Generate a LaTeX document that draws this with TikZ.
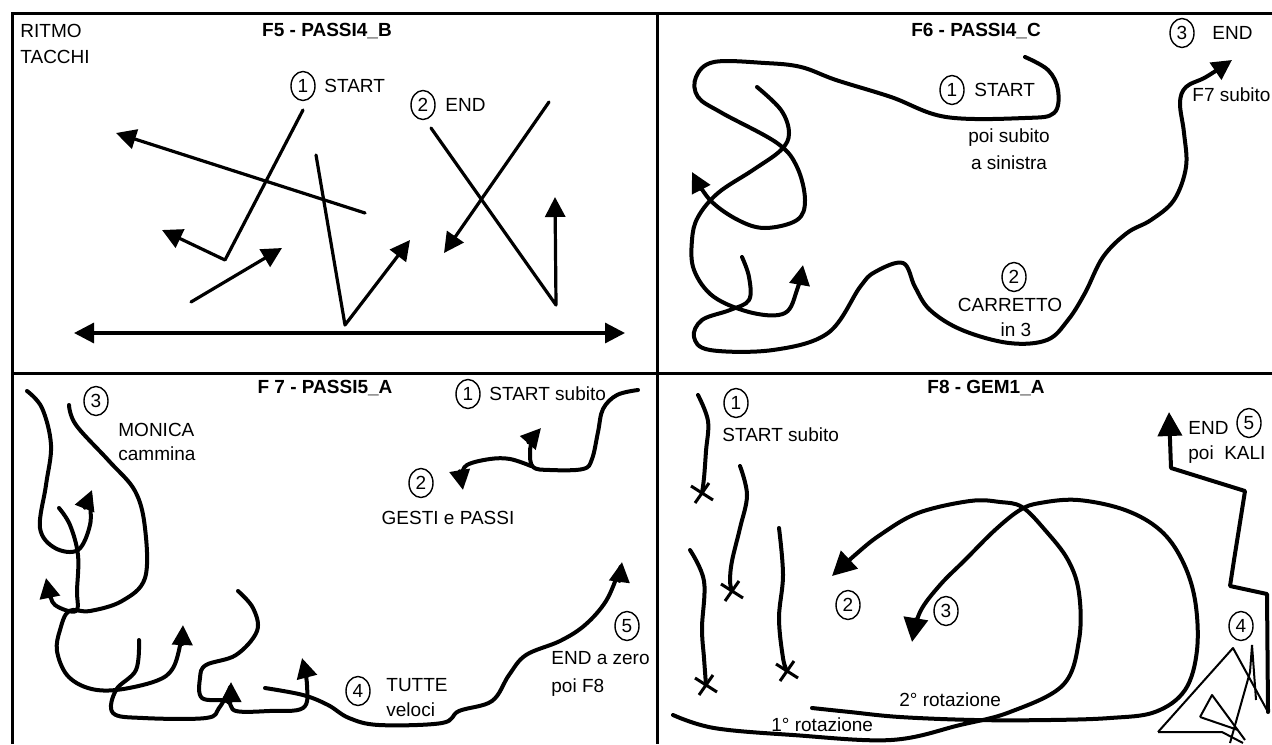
\documentclass[tikz,border=0pt]{standalone}
\usepackage{fontspec}
\setmainfont{Liberation Sans}
\usetikzlibrary{arrows.meta,shapes.geometric}

\tikzset{
  frame/.style={line width=1.5pt},
  lbl/.style={font=\fontsize{9.5}{11}\selectfont,inner sep=0pt},
  ttl/.style={font=\fontsize{9.5}{11}\selectfont\bfseries,inner sep=0pt},
  num/.style={draw,ellipse,line width=0.7pt,minimum width=12pt,minimum height=14.5pt,inner sep=0pt,font=\fontsize{9.5}{11}\selectfont},
  stroke/.style={line width=1.6pt,line cap=round,line join=round},
  trail/.style={line width=2pt,line cap=round,line join=round},
  tip/.style={-{Triangle[length=10pt,width=10pt]}},
  bigtip/.style={-{Triangle[length=12pt,width=12pt]}},
  scribble/.style={line width=1pt,line join=round},
  xmark/.pic={\draw[line width=1.5pt] (-11,-7) -- (11,7) (-7,10) -- (7,-10);}
}

\begin{document}
\begin{tikzpicture}[x=0.5pt,y=-0.5pt]
\useasboundingbox (0,0) rectangle (1272,744);
\draw[frame] (12,744) -- (12,13) -- (1272,13);
\draw[frame] (657,13) -- (657,744);
\draw[frame] (12,373) -- (1272,373);

\node[lbl,anchor=west] (ritmo) at (20,31) {RITMO};
\node[lbl,anchor=west] (tacchi) at (20,57) {TACCHI};
\node[ttl] (f5) at (327,31) {F5 - PASSI4\_B};
\node[num] (f5a) at (303,86) {1};
\node[lbl,anchor=west] (f5start) at (324,86) {START};
\node[num] (f5b) at (423,105) {2};
\node[lbl,anchor=west] (f5end) at (445,105) {END};
\draw[stroke,tip] (365,213) -- (116,133);
\draw[stroke,tip] (303,110) -- (225,260) -- (162,230);
\draw[stroke,tip] (191,302) -- (282,248);
\draw[stroke,tip] (316,155) -- (345,325) -- (410,240);
\draw[stroke,tip] (431,128) -- (556,305) -- (555,197);
\draw[stroke,tip] (549,102) -- (444,253);
\draw[stroke,{Triangle[length=10pt,width=10pt]}-{Triangle[length=10pt,width=10pt]}] (74,333) -- (625,333);

\node[ttl] (f6) at (976,31) {F6 - PASSI4\_C};
\node[num] (f6a) at (952,90) {1};
\node[lbl,anchor=west] (f6start) at (974,90) {START};
\node[lbl] (f6poi) at (1009,138) {poi subito};
\node[lbl] (f6sin) at (1009,163) {a sinistra};
\node[num] (f6c) at (1182,33) {3};
\node[lbl,anchor=west] (f6end) at (1212,33) {END};
\node[lbl,anchor=west] (f6f7) at (1192,95) {F7 subito};
\node[num] (f6b) at (1014,277) {2};
\node[lbl] (f6car) at (1010,305) {CARRETTO};
\node[lbl] (f6in) at (1016,330) {in 3};
\draw[trail,tip] plot[smooth,tension=0.6] coordinates {(1025,57) (1048,70) (1058,90) (1054,113) (1025,118) (946,117) (891,97) (836,80) (801,67) (765,63) (714,62) (696,77) (698,97) (722,113) (777,143) (797,167) (805,200) (797,220) (765,228) (738,220) (710,200) (692,172)};
\draw[trail,tip] plot[smooth,tension=0.6] coordinates {(757,87) (781,110) (789,133) (781,150) (753,170) (718,193) (698,217) (692,240) (694,270) (714,297) (753,313) (785,313) (797,290) (803,265)};
\draw[trail,tip] plot[smooth,tension=0.6] coordinates {(742,257) (749,277) (749,300) (730,310) (702,320) (694,337) (710,350) (773,350) (828,333) (860,287) (875,272) (903,263) (915,287) (930,310) (962,330) (1009,343) (1047,340) (1068,320) (1085,293) (1103,257) (1127,233) (1151,220) (1174,200) (1186,167) (1184,133) (1180,103) (1186,87) (1206,77) (1232,60)};

\node[ttl] (f7) at (325,388) {F 7 - PASSI5\_A};
\node[num] (f7a) at (468,394) {1};
\node[lbl,anchor=west] (f7start) at (489,394) {START subito};
\node[num] (f7c) at (96,401) {3};
\node[lbl,anchor=west] (f7mon) at (118,430) {MONICA};
\node[lbl,anchor=west] (f7cam) at (118,454) {cammina};
\node[num] (f7b) at (421,483) {2};
\node[lbl] (f7gest) at (448,518) {GESTI e PASSI};
\node[num] (f7e) at (627,626) {5};
\node[lbl,anchor=west] (f7end) at (551,658) {END a zero};
\node[lbl,anchor=west] (f7poi) at (551,688) {poi F8};
\node[num] (f7d) at (358,691) {4};
\node[lbl,anchor=west] (f7tut) at (386,685) {TUTTE};
\node[lbl,anchor=west] (f7vel) at (386,710) {veloci};
\draw[trail,tip] plot[smooth,tension=0.6] coordinates {(638,390) (617,395) (603,409) (598,432) (592,459) (583,469) (550,470) (533,467) (530,452) (533,439) (541,428)};
\draw[trail,tip] plot[smooth,tension=0.6] coordinates {(531,466) (510,459) (490,459) (467,465) (462,476) (463,490)};
\draw[trail,tip] plot[smooth,tension=0.6] coordinates {(27,391) (42,408) (51,445) (46,485) (40,528) (55,548) (78,550) (90,525) (90,500) (92,490)};
\draw[trail,tip] plot[smooth,tension=0.6] coordinates {(69,405) (76,425) (109,461) (135,491) (145,528) (145,578) (122,601) (90,611) (69,611) (60,630) (57,651) (67,675) (88,688) (116,690) (156,681) (173,668) (181,641) (183,625)};
\draw[trail,tip] plot[smooth,tension=0.6] coordinates {(139,640) (136,670) (116,690) (113,713) (143,718) (206,718) (219,708) (229,690) (231,682)};
\draw[trail,tip] plot[smooth,tension=0.6] coordinates {(59,508) (70,525) (78,555) (77,590) (76,611) (55,605) (49,590) (46,578)};
\draw[trail,tip] plot[smooth,tension=0.6] coordinates {(238,591) (253,608) (257,631) (236,655) (206,665) (200,678) (202,698) (227,701) (236,711) (269,711) (303,708) (307,685) (302,658)};
\draw[trail,tip] plot[smooth,tension=0.6] coordinates {(265,688) (303,695) (328,705) (349,718) (379,725) (442,723) (459,711) (492,701) (509,675) (526,655) (560,641) (585,625) (606,601) (619,571) (622,562)};

\node[ttl] (f8) at (986,388) {F8 - GEM1\_A};
\node[num] (f8a) at (736,403) {1};
\node[lbl,anchor=west] (f8start) at (722,435) {START subito};
\node[lbl,anchor=west] (f8end) at (1188,428) {END};
\node[num] (f8e) at (1249,423) {5};
\node[lbl,anchor=west] (f8kali) at (1188,455) {poi\ \ KALI};
\node[num] (f8b) at (848,605) {2};
\node[num] (f8c) at (946,611) {3};
\node[num] (f8d) at (1241,626) {4};
\node[lbl,anchor=west] (f8rot2) at (899,700) {2° rotazione};
\node[lbl,anchor=west] (f8rot1) at (771,725) {1° rotazione};
\draw[trail] plot[smooth,tension=0.6] coordinates {(698,395) (708,421) (706,451) (704,478) (702,493)};
\draw[trail] plot[smooth,tension=0.6] coordinates {(740,466) (747,495) (740,528) (732,561) (730,581) (732,591)};
\draw[trail] plot[smooth,tension=0.6] coordinates {(690,550) (704,581) (702,628) (704,658) (706,685)};
\draw[trail] plot[smooth,tension=0.6] coordinates {(779,528) (783,575) (779,618) (783,658) (787,671)};
\pic at (702,493) {xmark};
\pic at (732,591) {xmark};
\pic at (706,685) {xmark};
\pic at (787,671) {xmark};
\draw[trail,bigtip] plot[smooth,tension=0.6] coordinates {(673,715) (714,728) (793,735) (891,740) (960,725) (1010,712) (1063,685) (1079,640) (1079,593) (1068,560) (1045,530) (1022,507) (1000,502) (970,501) (918,513) (880,535) (855,555) (832,576)};
\draw[trail,bigtip] plot[smooth,tension=0.6] coordinates {(812,708) (850,712) (900,717) (975,720) (1050,720) (1110,718) (1155,712) (1185,690) (1197,650) (1195,600) (1182,560) (1160,530) (1125,510) (1078,500) (1040,503) (1020,510) (995,530) (965,560) (940,585) (920,612) (912,642)};
\draw[trail,bigtip] (1268,712) -- (1267,594) -- (1230,586) -- (1234,560) -- (1245,491) -- (1171,468) -- (1169,412);
\draw[scribble] (1158,732) -- (1233,648) -- (1268,712);
\draw[scribble] (1158,732) -- (1222,732) -- (1243,743);
\draw[scribble] (1252,645) -- (1250,672) -- (1230,743);
\draw[scribble] (1252,645) -- (1256,700);
\draw[scribble] (1200,717) -- (1212,695) -- (1245,740);
\draw[scribble] (1200,717) -- (1238,730);
\end{tikzpicture}
\end{document}
